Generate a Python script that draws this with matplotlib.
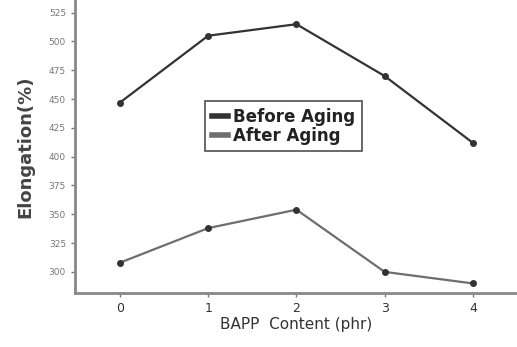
import matplotlib

matplotlib.use("Agg")

import matplotlib.pyplot as plt

content_phr = [0, 1, 2, 3, 4]
before_aging = [447, 505, 515, 470, 412]
after_aging = [308, 338, 354, 300, 290]
y_ticks = [300, 325, 350, 375, 400, 425, 450, 475, 500, 525]

fig = plt.figure(figsize=(5.17, 3.47), dpi=100)
ax = fig.add_axes([0.145, 0.155, 0.855, 0.845])

ax.plot(content_phr, before_aging, color="#333333", linewidth=1.6,
        marker="o", markersize=4, label="Before Aging")
ax.plot(content_phr, after_aging, color="#6e6e6e", linewidth=1.6,
        marker="o", markersize=4, markerfacecolor="#333333",
        markeredgecolor="#333333", label="After Aging")

ax.set_xlim(-0.51, 4.5)
ax.set_ylim(281.5, 536)
ax.set_xticks(content_phr)
ax.set_yticks(y_ticks)
ax.tick_params(axis="y", labelsize=6.5, colors="#777777", length=3, width=1)
ax.tick_params(axis="x", labelsize=9, colors="#777777", length=3, width=1,
               labelcolor="#333333")

for side in ("top", "right"):
    ax.spines[side].set_visible(False)
for side in ("left", "bottom"):
    ax.spines[side].set_color("#888888")
    ax.spines[side].set_linewidth(2)

ax.set_ylabel("Elongation(%)", fontsize=13, fontweight="bold", color="#444444",
              labelpad=10)
ax.set_xlabel("BAPP  Content (phr)", fontsize=11, color="#333333", labelpad=1)

leg = ax.legend(loc="upper left", bbox_to_anchor=(0.294, 0.655),
                prop={"size": 12, "weight": "bold"},
                frameon=True, fancybox=False, borderpad=0.4, handlelength=1.0,
                handletextpad=0.3, labelspacing=0.05, borderaxespad=0)
leg.get_frame().set_edgecolor("#222222")
leg.get_frame().set_linewidth(1.2)
for line in leg.get_lines():
    line.set_linewidth(4)
    line.set_marker("")
for text in leg.get_texts():
    text.set_color("#222222")

fig.savefig("out.png", dpi=100)
plt.close(fig)
